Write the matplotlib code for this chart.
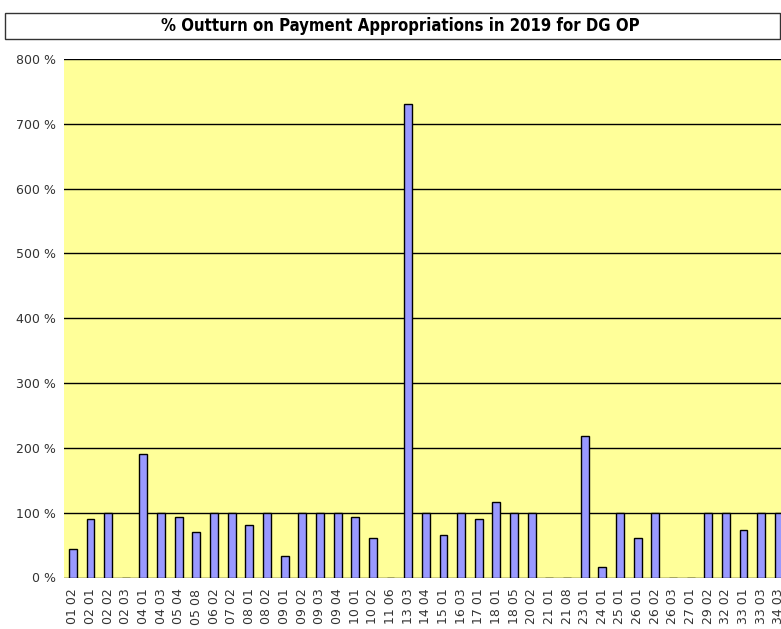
import numpy as np
import matplotlib
matplotlib.use('Agg')
import matplotlib.pyplot as plt
from matplotlib.patches import Rectangle

plt.rcParams['font.family'] = 'DejaVu Sans'

title = '% Outturn on Payment Appropriations in 2019 for DG OP'

categories = ['01 02', '02 01', '02 02', '02 03', '04 01', '04 03', '05 04', '05 08',
              '06 02', '07 02', '08 01', '08 02', '09 01', '09 02', '09 03', '09 04',
              '10 01', '10 02', '11 06', '13 03', '14 04', '15 01', '16 03', '17 01',
              '18 01', '18 05', '20 02', '21 01', '21 08', '23 01', '24 01', '25 01',
              '26 01', '26 02', '26 03', '27 01', '29 02', '32 02', '33 01', '33 03',
              '34 03']
outturn = [44, 91, 100, 0, 190, 100, 94, 70,
           100, 100, 81, 100, 33, 100, 100, 100,
           94, 61, 0, 731, 100, 66, 100, 91,
           117, 100, 100, 0, 0, 218, 16, 100,
           61, 100, 0, 0, 100, 99, 74, 100,
           100]
yticks = [0, 100, 200, 300, 400, 500, 600, 700, 800]

W, H = 781, 629
fig = plt.figure(figsize=(W / 100, H / 100), dpi=100)

# plot area runs off the right edge like the original
left, bottom, top = 64, 51.5, 570
step = 17.65
axw = len(categories) * step
ax = fig.add_axes([left / W, bottom / H, axw / W, (top - bottom) / H])
ax.set_facecolor('#ffff99')

x = np.arange(len(categories))
ax.bar(x, outturn, width=0.45, color='#9999ff', edgecolor='black', linewidth=1, zorder=3)

ax.set_xlim(-0.5, len(categories) - 0.5)
ax.set_ylim(0, 800)
ax.set_yticks(yticks)
ax.set_yticklabels([f'{v} %' for v in yticks], fontsize=9, color='#333333')
ax.set_xticks(x)
ax.set_xticklabels(categories, rotation=90, fontsize=9, color='#333333')
ax.tick_params(axis='y', length=0, pad=6)
ax.tick_params(axis='x', length=0, pad=8)
ax.yaxis.grid(True, color='black', linewidth=1, zorder=1)
ax.set_axisbelow(True)
for s in ax.spines.values():
    s.set_visible(False)

# title box
fig.patches.append(Rectangle((5 / W, 1 - 39 / H), 775 / W, 26 / H, transform=fig.transFigure,
                             facecolor='white', edgecolor='#333333', linewidth=1))
fig.text(400 / W, 1 - 26 / H, title, ha='center', va='center', fontsize=12,
         fontweight='bold', fontstretch='condensed', color='black')

fig.savefig('out.png', dpi=100)
